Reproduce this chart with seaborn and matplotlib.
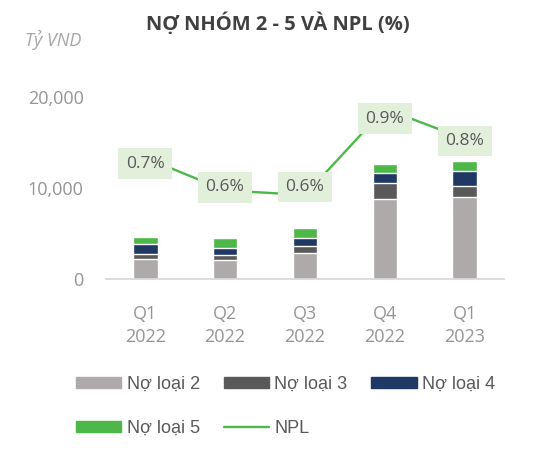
import numpy as np
import pandas as pd
import matplotlib.pyplot as plt
import seaborn as sns
from matplotlib.ticker import FuncFormatter
from matplotlib.patches import Patch
from matplotlib.lines import Line2D

# Data (ty VND, NPL in %)
quarters = ['Q1\n2022', 'Q2\n2022', 'Q3\n2022', 'Q4\n2022', 'Q1\n2023']
no_loai_2 = [2200, 2050, 2890, 8790, 9050]
no_loai_3 = [550, 580, 730, 1720, 1130]
no_loai_4 = [1060, 800, 840, 1100, 1720]
no_loai_5 = [835, 1030, 1130, 1060, 1100]
npl = [0.72, 0.58, 0.56, 0.93, 0.80]

series_names = ['Nợ loại 2', 'Nợ loại 3', 'Nợ loại 4', 'Nợ loại 5']
colors = ['#aeaaaa', '#595959', '#1f3864', '#4db748']
npl_color = '#4db748'
label_dy = [-6, 3, 8, -10, -2]  # small nudges of the % boxes, in pixels

sns.set_theme(style='white')
plt.rcParams['font.family'] = ['Open Sans', 'DejaVu Sans']

df = pd.DataFrame({'quarter': quarters, 'Nợ loại 2': no_loai_2, 'Nợ loại 3': no_loai_3,
                   'Nợ loại 4': no_loai_4, 'Nợ loại 5': no_loai_5, 'npl': npl})
df['idx'] = np.arange(len(df))

fig = plt.figure(figsize=(5.35, 4.58), dpi=100)
ax = fig.add_axes([0.1981, 0.3908, 0.7439, 0.3974])

# stacked bars: draw cumulative totals from the top segment down
cum = df[series_names].cumsum(axis=1)
for name, col in reversed(list(zip(series_names, colors))):
    sns.barplot(x=df['quarter'], y=cum[name], color=col, width=0.31,
                saturation=1, ax=ax, zorder=2)

ax.set_ylim(0, 20000)
ax.set_xlim(-0.49, 4.49)
ax.set_yticks([0, 10000, 20000])
ax.yaxis.set_major_formatter(FuncFormatter(lambda v, p: f'{v:,.0f}'))
ax.set_xlabel('')
ax.set_ylabel('')
for s in ['top', 'right', 'left']:
    ax.spines[s].set_visible(False)
ax.spines['bottom'].set_color('#d9d9d9')
ax.spines['bottom'].set_linewidth(1.3)
ax.tick_params(axis='y', length=0, pad=16, labelsize=13, labelcolor='#959595')
ax.tick_params(axis='x', length=0, pad=19, labelsize=13, labelcolor='#959595')
ax.set_xticks(range(len(quarters)))
ax.set_xticklabels(quarters)
for lbl in ax.get_xticklabels():
    lbl.set_linespacing(1.32)

# NPL line on a hidden second axis
ax2 = ax.twinx()
sns.lineplot(data=df, x='idx', y='npl', color=npl_color, linewidth=1.7, ax=ax2)
ax2.set_ylim(0.2, 0.98)
ax2.set_xlim(-0.49, 4.49)
ax2.set_yticks([])
ax2.set_ylabel('')
ax2.set_xlabel('')
for s in ax2.spines.values():
    s.set_visible(False)

for i, v in enumerate(npl):
    ax2.annotate(f'{v:.1f}%', (i, v), xytext=(0, label_dy[i]), textcoords='offset pixels',
                 ha='center', va='center', fontsize=12.5, color='#595959', zorder=5,
                 bbox=dict(boxstyle='square,pad=0.42', fc='#e2efda', ec='none'))

fig.text(278 / 535, 1 - 24 / 458, 'NỢ NHÓM 2 - 5 VÀ NPL (%)', ha='center', va='center',
         fontsize=14.5, fontweight='bold', color='#404040')
fig.text(25 / 535, 1 - 40 / 458, 'Tỷ VND', ha='left', va='center', fontsize=13,
         fontstyle='italic', color='#a6a6a6')

handles = [Patch(color=c) for c in colors] + [Line2D([], [], color=npl_color, lw=1.7)]
names = series_names + ['NPL']
order = [0, 3, 1, 4, 2]
fig.legend([handles[k] for k in order], [names[k] for k in order], ncol=3,
           loc='upper left', bbox_to_anchor=(76 / 535, 1 - 376 / 458), frameon=False,
           borderpad=0, borderaxespad=0, handlelength=2.5, handleheight=0.55,
           handletextpad=0.3, columnspacing=1.33, labelspacing=1.47,
           prop={'family': ['Liberation Sans', 'DejaVu Sans'], 'size': 13},
           labelcolor='#595959')

fig.savefig('out.png', dpi=100)
